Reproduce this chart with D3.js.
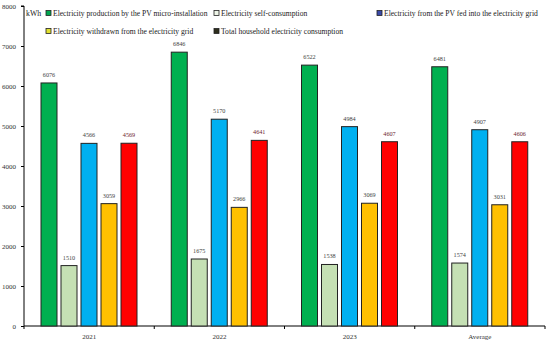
<!DOCTYPE html>
<html><head><meta charset="utf-8">
<script src="https://cdn.jsdelivr.net/npm/d3@7"></script>
<style>body{margin:0;background:#fff}svg{display:block}text{font-family:"Liberation Serif","DejaVu Serif",serif}</style>
</head><body><svg id="c" width="550" height="343"></svg>
<script>
const categories = ["2021","2022","2023","Average"];
const seriesNames = ["Electricity production by the PV micro-installation","Electricity self-consumption","Electricity from the PV fed into the electricity grid","Electricity withdrawn from the electricity grid","Total household electricity consumption"];
const production = [6076,6846,6522,6481];
const selfConsumption = [1510,1675,1538,1574];
const fedIntoGrid = [4566,5170,4984,4907];
const withdrawn = [3059,2966,3069,3031];
const totalConsumption = [4569,4641,4607,4606];
const yTicks = [0,1000,2000,3000,4000,5000,6000,7000,8000];

const series = [production,selfConsumption,fedIntoGrid,withdrawn,totalConsumption];
const colors = ["#00b050","#c5e0b4","#00b0f0","#ffc000","#ff0000"];
const legendColors = ["#00a651","#eef5e8","#3a4aa8","#e0e030","#2e2e1c"];
const labelColors = ["#444","#444","#444","#444","#6e2630"];

const svg = d3.select("#c");
const y = d3.scaleLinear().domain([0,8000]).range([326,6]);
const x = d3.scaleBand().domain(categories).range([24,545]);
const xi = d3.scaleBand().domain(d3.range(5)).range([17,113]).paddingInner(0.2);

// y axis
const ya = svg.append("g").attr("transform","translate(24,0)")
  .call(d3.axisLeft(y).tickValues(yTicks).tickSize(3).tickPadding(5).tickFormat(d3.format("d")));
ya.select(".domain").attr("stroke","#000").attr("d","M-3,6H0V326");
ya.selectAll(".tick line").attr("stroke","#000");
ya.selectAll("text").attr("font-size","7px").attr("fill","#333").attr("font-family","Liberation Serif");

// x axis
const xa = svg.append("g").attr("transform","translate(0,326)");
xa.append("line").attr("x1",24).attr("x2",545).attr("y1",0).attr("y2",0).attr("stroke","#000");
const bounds = categories.map(c=>x(c)).concat([x.range()[1]]);
xa.selectAll("line.t").data(bounds).enter().append("line").attr("class","t")
  .attr("x1",d=>d).attr("x2",d=>d).attr("y1",0).attr("y2",3).attr("stroke","#000");
xa.selectAll("text").data(categories).enter().append("text")
  .attr("x",d=>x(d)+x.bandwidth()/2).attr("y",13).attr("text-anchor","middle")
  .attr("font-size","7px").attr("fill","#333").text(d=>d);

// bars
const g = svg.append("g");
series.forEach((vals,si)=>{
  vals.forEach((v,ci)=>{
    const cx = x(categories[ci]) + xi(si);
    g.append("rect").attr("x",cx).attr("y",y(v)).attr("width",xi.bandwidth()).attr("height",y(0)-y(v))
      .attr("fill",colors[si]).attr("stroke","#222").attr("stroke-width",1);
    g.append("text").attr("x",cx+xi.bandwidth()/2).attr("y",y(v)-6).attr("text-anchor","middle")
      .attr("font-size","6.2px").attr("fill",labelColors[si]).text(v);
  });
});

// legend
svg.append("text").attr("x",26).attr("y",16).attr("font-size","7.8px").attr("fill","#222").text("kWh");
const legPos = [[46,13],[214,13],[377,13],[46,31],[214,31]];
seriesNames.forEach((n,i)=>{
  const [lx,ly]=legPos[i];
  svg.append("rect").attr("x",lx).attr("y",ly-2.5).attr("width",5).attr("height",5)
    .attr("fill",legendColors[i]).attr("stroke","#222").attr("stroke-width",0.8);
  svg.append("text").attr("x",lx+7).attr("y",ly+2.7).attr("font-size","7.6px").attr("fill","#222").text(n);
});
</script></body></html>
